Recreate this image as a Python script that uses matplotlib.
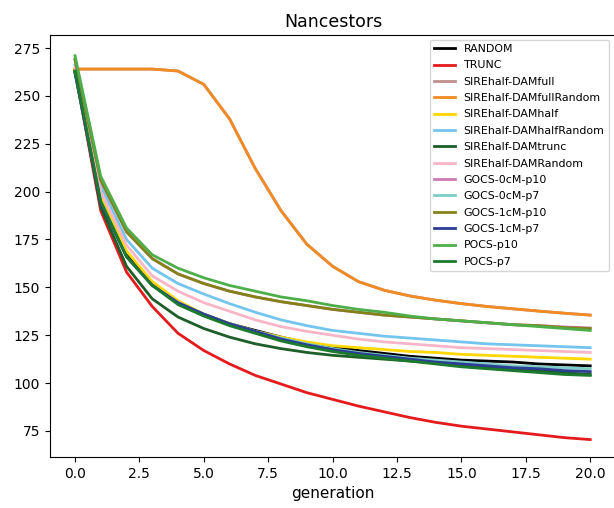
import matplotlib.pyplot as plt
import numpy as np

# geracoes
generation = np.arange(21)

# Nancestors por metodo
RANDOM = [263, 196, 167, 152, 142, 136, 131, 127.5, 124, 121, 119, 117, 115.5, 114, 113, 112, 111.5, 111, 110, 109.5, 109]
TRUNC = [263, 190, 158, 140, 126, 117, 110, 104, 99.5, 95, 91.5, 88, 85, 82, 79.5, 77.5, 76, 74.5, 73, 71.5, 70.5]
SIRE_DAMfull = [264, 264, 264, 264, 263, 256, 238, 212, 190, 172.5, 161, 153, 148.5, 145.5, 143.3, 141.5, 140, 138.8, 137.6, 136.5, 135.5]
SIRE_DAMfullRandom = [264, 264, 264, 264, 263, 256, 238, 212, 190, 172.5, 161, 153, 148.5, 145.5, 143.3, 141.5, 140, 138.8, 137.6, 136.5, 135.5]
SIRE_DAMhalf = [264, 198, 169, 153, 143, 136, 131, 127, 124, 121.5, 119.5, 118.5, 117.5, 116.5, 116, 115, 114.5, 114, 113.5, 113, 112.5]
SIRE_DAMhalfRandom = [266, 203, 175, 160, 152, 146.5, 141.5, 137, 133, 130, 127.5, 126, 124.5, 123.5, 122.5, 121.5, 120.5, 120, 119.5, 119, 118.5]
SIRE_DAMtrunc = [263, 192, 161, 144, 134.5, 128.5, 124, 120.5, 118, 116, 114.5, 113.5, 112.5, 111.5, 110.5, 109.5, 108.5, 107.5, 106.5, 105.5, 104.5]
SIRE_DAMRandom = [265, 200, 172, 156, 148, 142, 137.5, 133, 129.5, 127, 125, 123, 121.5, 120.5, 119.5, 118.5, 118, 117.5, 117, 116.5, 116]
GOCS_0cM_p10 = [269, 206, 179, 165, 157, 152, 148, 145, 142.5, 140.5, 138.5, 137, 135.5, 134.5, 133.5, 132.5, 131.5, 130.5, 130, 129.3, 128.8]
GOCS_0cM_p7 = [262, 195, 166, 151, 142, 136, 131, 127, 123.5, 120.5, 118, 116, 114.5, 113, 112, 111, 110, 109, 108.5, 108, 107.5]
GOCS_1cM_p10 = [269, 206, 179, 165, 157, 152, 148, 145, 142.5, 140.5, 138.5, 137, 135.5, 134.5, 133.5, 132.5, 131.5, 130.5, 130, 129, 128.5]
GOCS_1cM_p7 = [262, 194, 166, 151, 142, 136, 131, 127, 123, 120, 117.5, 115.5, 114, 112.5, 111, 110, 109, 108, 107.5, 106.5, 106]
POCS_p10 = [271, 208, 181, 167, 160, 155, 151, 148, 145, 143, 140.5, 138.5, 137, 135, 133.5, 132.5, 131.5, 130.5, 129.5, 128.5, 127.5]
POCS_p7 = [263, 195, 166, 151, 141, 135, 130, 126, 122, 119, 116.5, 114.5, 113, 111.5, 110, 108.5, 107.5, 106.5, 105.5, 104.5, 104]

series = [
    ('RANDOM', RANDOM, 'black'),
    ('TRUNC', TRUNC, '#e41a1c'),
    ('SIREhalf-DAMfull', SIRE_DAMfull, '#c08f8c'),
    ('SIREhalf-DAMfullRandom', SIRE_DAMfullRandom, '#f28b24'),
    ('SIREhalf-DAMhalf', SIRE_DAMhalf, '#ffd700'),
    ('SIREhalf-DAMhalfRandom', SIRE_DAMhalfRandom, '#74c5ee'),
    ('SIREhalf-DAMtrunc', SIRE_DAMtrunc, '#1e5e28'),
    ('SIREhalf-DAMRandom', SIRE_DAMRandom, '#f7b6c8'),
    ('GOCS-0cM-p10', GOCS_0cM_p10, '#cc79b9'),
    ('GOCS-0cM-p7', GOCS_0cM_p7, '#7dcdc6'),
    ('GOCS-1cM-p10', GOCS_1cM_p10, '#848217'),
    ('GOCS-1cM-p7', GOCS_1cM_p7, '#2c3d96'),
    ('POCS-p10', POCS_p10, '#4dae4a'),
    ('POCS-p7', POCS_p7, '#1b7a2e'),
]

fig = plt.figure(figsize=(6.14, 5.08), dpi=100)
ax = fig.add_axes([50 / 614, 1 - 457 / 508, 566 / 614, 422 / 508])

for nome, valores, cor in series:
    ax.plot(generation, valores, color=cor, lw=2, label=nome)

ax.set_xlim(-0.97, 21.0)
ax.set_ylim(61.4, 281.8)
ax.set_xticks(np.arange(0, 20.1, 2.5))
ax.set_yticks(np.arange(75, 276, 25))
ax.set_xlabel('generation', fontsize=11)
ax.set_title('Nancestors', fontsize=12.5)
ax.legend(loc='upper right', fontsize=7.9, bbox_to_anchor=(0.997, 1.002),
          handlelength=1.9, labelspacing=0.58)

fig.savefig('out.png', dpi=100)
